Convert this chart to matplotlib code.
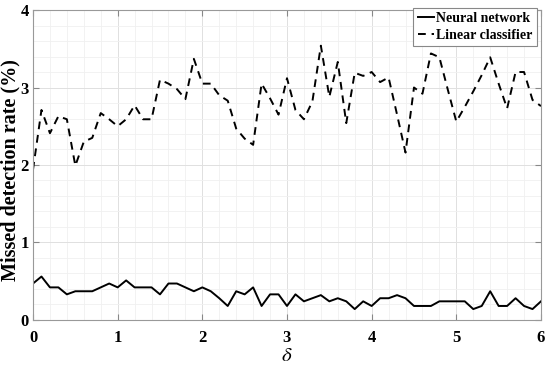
import numpy as np
import matplotlib
matplotlib.use("Agg")
import matplotlib.pyplot as plt
from matplotlib.ticker import MultipleLocator

delta = [round(0.1 * i, 1) for i in range(61)]

neural = [0.47, 0.56, 0.42, 0.42, 0.33, 0.37, 0.37, 0.37, 0.42, 0.47,
          0.42, 0.51, 0.42, 0.42, 0.42, 0.33, 0.47, 0.47, 0.42, 0.37,
          0.42, 0.37, 0.28, 0.18, 0.37, 0.33, 0.42, 0.18, 0.33, 0.33,
          0.18, 0.33, 0.24, 0.28, 0.32, 0.24, 0.28, 0.24, 0.14, 0.24,
          0.18, 0.28, 0.28, 0.32, 0.28, 0.18, 0.18, 0.18, 0.24, 0.24,
          0.24, 0.24, 0.14, 0.18, 0.37, 0.18, 0.18, 0.28, 0.18, 0.14,
          0.24]

linear = [1.94, 2.71, 2.41, 2.63, 2.59, 1.99, 2.30, 2.35, 2.67, 2.59,
          2.50, 2.59, 2.77, 2.59, 2.59, 3.10, 3.05, 2.98, 2.85, 3.37,
          3.05, 3.05, 2.90, 2.83, 2.47, 2.34, 2.26, 3.05, 2.86, 2.65,
          3.12, 2.71, 2.59, 2.82, 3.54, 2.88, 3.33, 2.54, 3.19, 3.15,
          3.20, 3.07, 3.13, 2.65, 2.16, 3.00, 2.92, 3.44, 3.39, 2.97,
          2.56, 2.75, 2.95, 3.16, 3.39, 3.05, 2.73, 3.20, 3.20, 2.84,
          2.76]

labels = ["Neural network", "Linear classifier"]

plt.rcParams['font.family'] = ['Liberation Serif', 'DejaVu Serif']
plt.rcParams['mathtext.fontset'] = 'stix'

fig = plt.figure(figsize=(5.5, 3.72), dpi=100)
ax = fig.add_axes([0.06, 0.14, 0.9236, 0.833])

ax.plot(delta, neural, color='black', lw=1.4, ls='-', label=labels[0])
ax.plot(delta, linear, color='black', lw=1.4, ls=(0, (4, 3)), label=labels[1])

ax.set_xlim(0, 6)
ax.set_ylim(0, 4)
ax.xaxis.set_major_locator(MultipleLocator(1))
ax.yaxis.set_major_locator(MultipleLocator(1))
ax.xaxis.set_minor_locator(MultipleLocator(0.2))
ax.yaxis.set_minor_locator(MultipleLocator(0.2))
ax.grid(which='major', color='#e0e0e0', lw=0.7)
ax.grid(which='minor', color='#f0f0f0', lw=0.6)
ax.set_axisbelow(True)
ax.tick_params(which='both', direction='in', top=True, right=True, colors='#888888',
               labelcolor='black', labelsize=12)
ax.tick_params(which='major', length=4)
ax.tick_params(axis='x', which='major', pad=7)
ax.tick_params(axis='y', which='major', pad=3)
ax.tick_params(which='minor', length=0)
for lab in ax.get_xticklabels() + ax.get_yticklabels():
    lab.set_fontweight('bold')
for s in ax.spines.values():
    s.set_color('#999999')
    s.set_linewidth(0.8)

ax.set_ylabel('Missed detection rate (%)', fontsize=14.5, fontweight='bold')
ax.yaxis.set_label_coords(-0.025, 0.485)
ax.set_xlabel(r'$\delta$', fontsize=15, labelpad=1)

leg = ax.legend(loc='upper right', bbox_to_anchor=(0.992, 1.008), frameon=True,
                fancybox=False, edgecolor='#888888', borderpad=0.3, handlelength=1.2,
                handletextpad=0.15, labelspacing=0.3, borderaxespad=0.0,
                prop={'weight': 'bold', 'size': 10})
leg.get_frame().set_linewidth(0.8)
leg.get_frame().set_alpha(1)

fig.savefig('out.png', dpi=100)
